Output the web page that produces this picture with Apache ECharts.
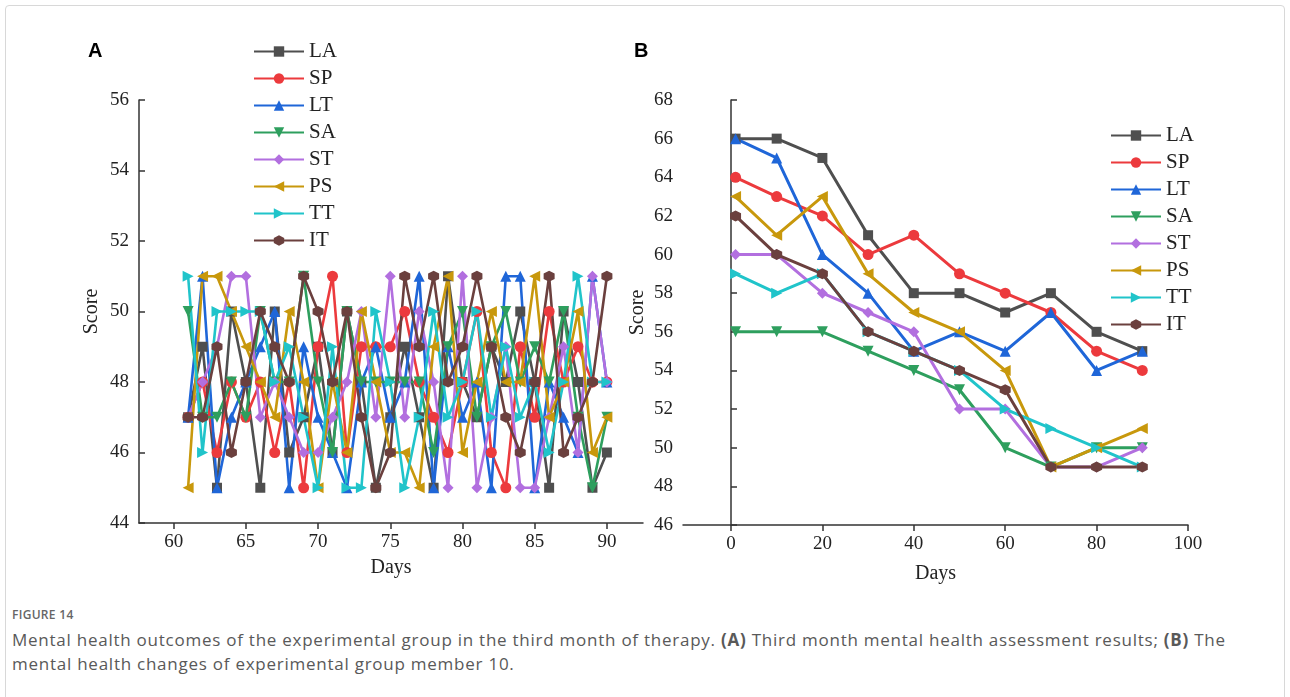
<!DOCTYPE html>
<html>
<head>
<meta charset="utf-8">
<script src="https://cdn.jsdelivr.net/npm/echarts@6/dist/echarts.min.js"></script>
<style>
  html, body { margin: 0; padding: 0; background: #fff; }
  #frame { position: absolute; left: 5px; top: 5px; width: 1278px; height: 700px; border: 1px solid #d8d8d8; border-radius: 4px; }
  #main { position: absolute; left: 0; top: 0; width: 1290px; height: 600px; }
  #cap { position: absolute; left: 12px; top: 606px; width: 1250px; font-family: "Open Sans", "Noto Sans", sans-serif; color: #595959; }
  #cap .fig { font-size: 12px; font-weight: 600; letter-spacing: 0.3px; color: #666; }
  #cap .txt { margin-top: 5px; font-size: 17px; line-height: 24px; letter-spacing: 0.75px; }
</style>
</head>
<body>
<div id="frame"></div>
<div id="main"></div>
<div id="cap">
  <div class="fig">FIGURE 14</div>
  <div class="txt">Mental health outcomes of the experimental group in the third month of therapy. <b>(A)</b> Third month mental health assessment results; <b>(B)</b> The mental health changes of experimental group member 10.</div>
</div>
<script>
// panel A: days 61-90
const daysA = [61, 62, 63, 64, 65, 66, 67, 68, 69, 70, 71, 72, 73, 74, 75, 76, 77, 78, 79, 80, 81, 82, 83, 84, 85, 86, 87, 88, 89, 90];
const LA_A = [47, 49, 45, 50, 48, 45, 50, 46, 47, 49, 46, 50, 48, 45, 47, 49, 47, 45, 51, 48, 47, 49, 48, 50, 48, 45, 50, 48, 45, 46];
const SP_A = [47, 48, 46, 48, 47, 48, 46, 48, 45, 49, 51, 46, 49, 49, 49, 50, 48, 47, 46, 48, 50, 46, 45, 49, 47, 50, 48, 49, 48, 48];
const LT_A = [47, 51, 45, 47, 48, 49, 50, 45, 49, 47, 46, 45, 48, 49, 47, 48, 51, 45, 49, 47, 48, 45, 51, 51, 45, 48, 47, 46, 51, 48];
const SA_A = [50, 47, 47, 48, 47, 50, 48, 48, 51, 48, 46, 50, 48, 48, 48, 48, 48, 46, 49, 50, 47, 49, 50, 48, 49, 48, 50, 47, 45, 47];
const ST_A = [47, 48, 49, 51, 51, 47, 48, 47, 46, 46, 47, 48, 50, 47, 51, 47, 50, 48, 45, 51, 45, 47, 49, 45, 45, 47, 49, 46, 51, 48];
const PS_A = [45, 51, 51, 50, 49, 48, 47, 50, 48, 45, 48, 46, 50, 48, 46, 46, 45, 49, 51, 46, 48, 50, 48, 48, 51, 47, 48, 50, 46, 47];
const TT_A = [51, 46, 50, 50, 50, 50, 48, 49, 47, 45, 49, 45, 45, 50, 48, 45, 47, 50, 47, 48, 50, 47, 49, 47, 48, 46, 48, 51, 48, 48];
const IT_A = [47, 47, 49, 46, 48, 50, 49, 48, 51, 50, 48, 50, 47, 45, 46, 51, 49, 51, 48, 49, 51, 49, 47, 46, 48, 51, 46, 47, 48, 51];

// panel B: member 10
const daysB = [1, 10, 20, 30, 40, 50, 60, 70, 80, 90];
const LA_B = [66, 66, 65, 61, 58, 58, 57, 58, 56, 55];
const SP_B = [64, 63, 62, 60, 61, 59, 58, 57, 55, 54];
const LT_B = [66, 65, 60, 58, 55, 56, 55, 57, 54, 55];
const SA_B = [56, 56, 56, 55, 54, 53, 50, 49, 50, 50];
const ST_B = [60, 60, 58, 57, 56, 52, 52, 49, 49, 50];
const PS_B = [63, 61, 63, 59, 57, 56, 54, 49, 50, 51];
const TT_B = [59, 58, 59, 56, 55, 54, 52, 51, 50, 49];
const IT_B = [62, 60, 59, 56, 55, 54, 53, 49, 49, 49];

const ticksA = [60, 65, 70, 75, 80, 85, 90];
const ticksB = [0, 20, 40, 60, 80, 100];

const names = ['LA', 'SP', 'LT', 'SA', 'ST', 'PS', 'TT', 'IT'];
const COLORS = ['#4f4f4f', '#ec3a3d', '#1f66d8', '#2e9f5e', '#b26fdf', '#c8980c', '#20c4ca', '#6b403e'];
const HEX = 'path://M0,-1 L0.866,-0.5 L0.866,0.5 L0,1 L-0.866,0.5 L-0.866,-0.5 Z';
const SYMBOLS = ['rect', 'circle', 'triangle', 'triangle', 'diamond', 'triangle', 'triangle', HEX];
const ROTATE = [0, 0, 0, 180, 0, 90, -90, 0];
const SIZES = [10, 11, 11, 11, 11, 11, 11, 11];

const dataA = [LA_A, SP_A, LT_A, SA_A, ST_A, PS_A, TT_A, IT_A];
const dataB = [LA_B, SP_B, LT_B, SA_B, ST_B, PS_B, TT_B, IT_B];

const serif = 'Liberation Serif';
const axisText = { color: '#222', fontFamily: serif, fontSize: 19 };
const axisLine = { show: true, lineStyle: { color: '#333', width: 1.5 } };

function tick(inside, values) {
    const t = { show: true, inside: inside, length: 6, lineStyle: { color: '#333', width: 1.5 } };
    if (values) t.customValues = values;
    return t;
}

// rich text so the serif face sticks on the tick labels
function label(values) {
    const l = Object.assign({ margin: 10, formatter: '{t|{value}}', rich: { t: axisText } }, axisText);
    if (values) l.customValues = values;
    return l;
}

const series = [];
names.forEach(function (n, i) {
    const common = {
        name: n,
        type: 'line',
        color: COLORS[i],
        symbol: SYMBOLS[i],
        symbolRotate: ROTATE[i],
        symbolSize: SIZES[i],
        showAllSymbol: true,
        animation: false
    };
    series.push(Object.assign({}, common, {
        xAxisIndex: 0, yAxisIndex: 0,
        lineStyle: { width: 2.6 },
        data: daysA.map(function (d, k) { return [d, dataA[i][k]]; })
    }));
    series.push(Object.assign({}, common, {
        xAxisIndex: 1, yAxisIndex: 1,
        lineStyle: { width: 3 },
        data: daysB.map(function (d, k) { return [d, dataB[i][k]]; })
    }));
});

const legendCommon = {
    orient: 'vertical',
    data: names,
    itemWidth: 50,
    itemHeight: 13,
    itemGap: 6,
    selectedMode: false,
    textStyle: { color: '#222', fontFamily: serif, fontSize: 21, lineHeight: 20 }
};

const nameStyle = { color: '#222', fontFamily: serif, fontSize: 20 };

const chart = echarts.init(document.getElementById('main'), null, { renderer: 'canvas' });
chart.setOption({
    animation: false,
    textStyle: { fontFamily: serif },
    graphic: [
        { type: 'text', left: 88, top: 41, style: { text: 'A', fontFamily: 'Liberation Sans', fontWeight: 'bold', fontSize: 20, fill: '#000' } },
        { type: 'text', left: 634, top: 41, style: { text: 'B', fontFamily: 'Liberation Sans', fontWeight: 'bold', fontSize: 20, fill: '#000' } }
    ],
    legend: [
        Object.assign({ left: 248, top: 36 }, legendCommon),
        Object.assign({ left: 1105, top: 120 }, legendCommon)
    ],
    grid: [
        { left: 139, top: 100, width: 504, height: 423 },
        { left: 683, top: 100, width: 505, height: 425 }
    ],
    xAxis: [
        { type: 'value', gridIndex: 0, min: 57.6, max: 92.5, name: 'Days', nameLocation: 'middle', nameGap: 35,
          nameTextStyle: nameStyle, axisLine: axisLine, axisTick: tick(false, ticksA), axisLabel: label(ticksA), splitLine: { show: false } },
        { type: 'value', gridIndex: 1, min: -10.5, max: 100, name: 'Days', nameLocation: 'middle', nameGap: 39,
          nameTextStyle: nameStyle, axisLine: axisLine, axisTick: tick(false, ticksB), axisLabel: label(ticksB), splitLine: { show: false } }
    ],
    yAxis: [
        { type: 'value', gridIndex: 0, min: 44, max: 56, interval: 2, name: 'Score', nameLocation: 'middle', nameGap: 37,
          nameTextStyle: nameStyle, axisLine: axisLine, axisTick: tick(true), axisLabel: label(), splitLine: { show: false } },
        { type: 'value', gridIndex: 1, min: 46, max: 68, interval: 2, name: 'Score', nameLocation: 'middle', nameGap: 35,
          nameTextStyle: nameStyle, axisLine: axisLine, axisTick: tick(true), axisLabel: label(), splitLine: { show: false } }
    ],
    series: series
});
</script>
</body>
</html>
